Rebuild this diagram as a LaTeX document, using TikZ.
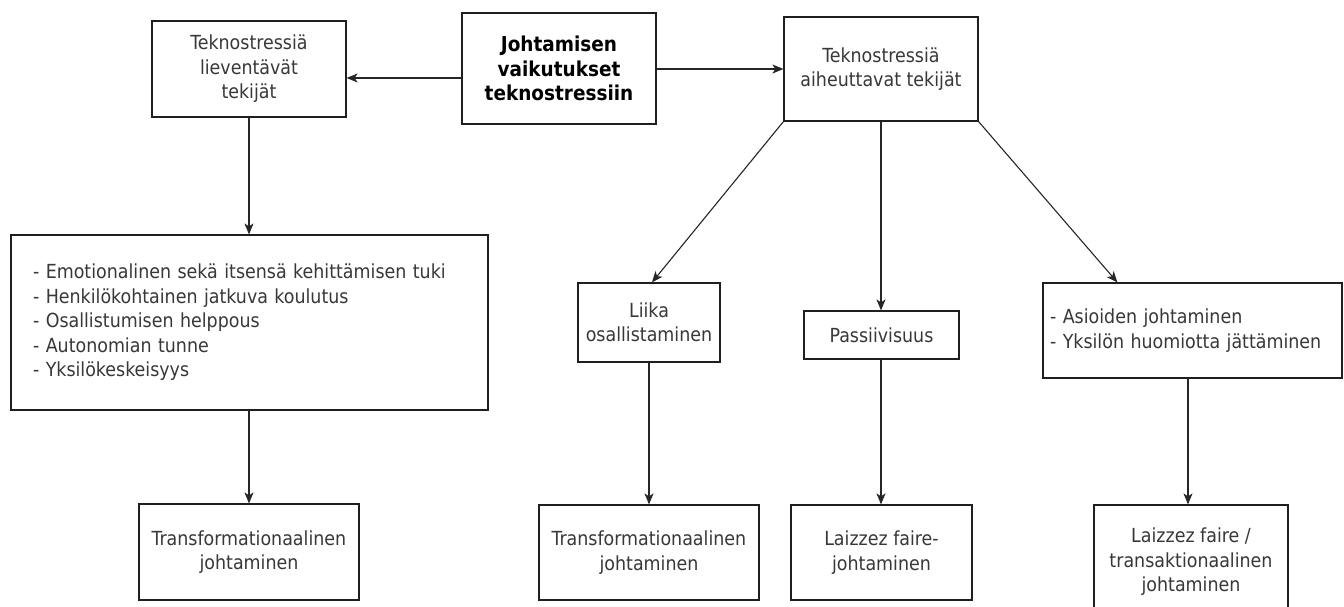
\documentclass[tikz,border=0pt]{standalone}
\usepackage{fontspec}
\setmainfont{DejaVu Sans Condensed}
\usetikzlibrary{arrows.meta}
\begin{document}
\begin{tikzpicture}[x=1pt,y=-1pt,
  box/.style={draw=black!88,line width=1.2pt,rectangle,inner sep=0pt,align=center,
    text=black!78,font=\fontsize{19.4}{24.5}\selectfont},
  listbox/.style={box,align=left},
  arr/.style={draw=black!85,line width=1.1pt,-{Stealth[length=11pt,width=9pt,inset=3pt]}}]
\useasboundingbox (0,0) rectangle (1344,607);
\fill[white] (0,0) rectangle (1344,607);
% top row
\node[box,minimum width=194pt,minimum height=96pt] (A) at (249,69) {Teknostressiä\\lieventävät\\tekijät};
\node[box,minimum width=194pt,minimum height=111pt,text=black,font=\fontsize{20.5}{24.5}\selectfont\bfseries] (C) at (559,68.5) {Johtamisen\\vaikutukset\\teknostressiin};
\node[box,minimum width=194pt,minimum height=104pt] (B) at (881,69) {Teknostressiä\\aiheuttavat tekijät};
% left column
\node[listbox,minimum height=175pt,text width=433pt,inner xsep=22pt] (L) at (249.5,322.5) {- Emotionalinen sekä itsensä kehittämisen tuki\\- Henkilökohtainen jatkuva koulutus\\- Osallistumisen helppous\\- Autonomian tunne\\- Yksilökeskeisyys};
\node[box,minimum width=220pt,minimum height=96pt] (LB) at (249,552) {Transformationaalinen\\johtaminen};
% middle row
\node[box,minimum width=142pt,minimum height=79pt] (M1) at (649,322.5) {Liika\\osallistaminen};
\node[box,minimum width=155pt,minimum height=48pt] (M2) at (881.5,335) {Passiivisuus};
\node[listbox,minimum height=95pt,text width=285pt,inner xsep=7pt] (M3) at (1192.5,330.5) {- Asioiden johtaminen\\- Yksilön huomiotta jättäminen};
% bottom row
\node[box,minimum width=220pt,minimum height=95pt] (B1) at (649,552.5) {Transformationaalinen\\johtaminen};
\node[box,minimum width=181pt,minimum height=95pt] (B2) at (881.5,552.5) {Laizzez faire-\\johtaminen};
\node[box,minimum width=194pt,minimum height=114pt] (B3) at (1191,562) {Laizzez faire /\\transaktionaalinen\\johtaminen};
% connectors
\draw[arr] ([yshift=-9.5pt]C.west) -- ([yshift=-9pt]A.east);
\draw[arr] (C.east |- B.west) -- (B.west);
\draw[arr] (A.south) -- (L.north -| A.south);
\draw[arr] (L.south -| A.south) -- (LB.north);
\draw[arr] (B.south west) -- ([xshift=3pt]M1.north);
\draw[arr] (B.south) -- (M2.north -| B.south);
\draw[arr] (B.south east) -- ([xshift=75pt]M3.north west);
\draw[arr] (M1.south) -- (B1.north);
\draw[arr] (M2.south -| B.south) -- (B2.north -| B.south);
\draw[arr] ([xshift=-4.5pt]M3.south) -- ([xshift=-3pt]B3.north);
\end{tikzpicture}
\end{document}
